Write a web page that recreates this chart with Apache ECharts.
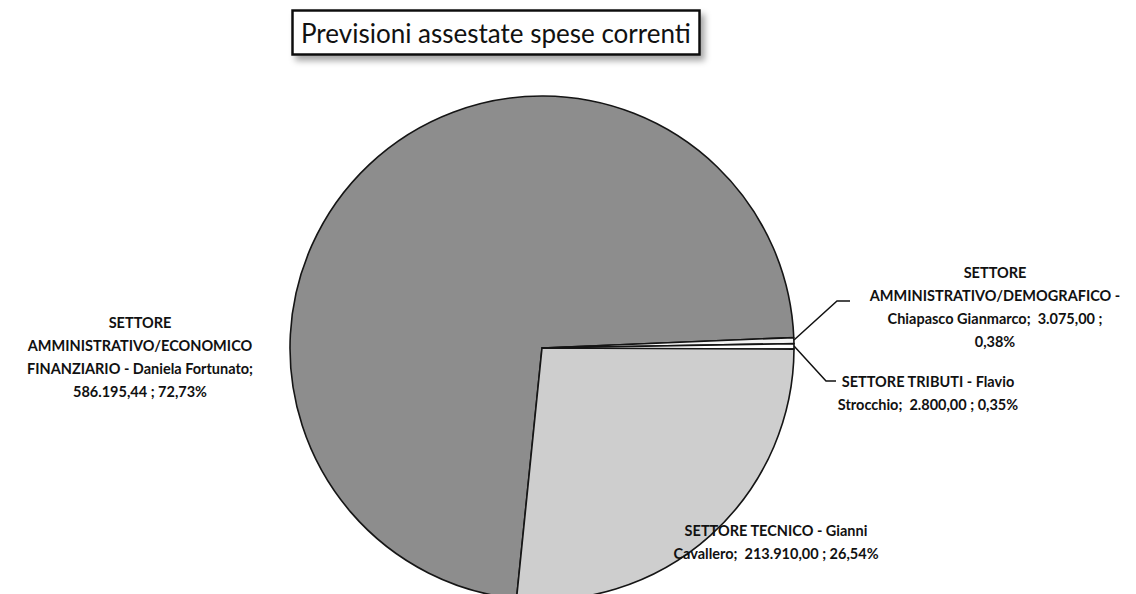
<!DOCTYPE html>
<html>
<head>
<meta charset="utf-8">
<script src="https://cdn.jsdelivr.net/npm/echarts@6/dist/echarts.min.js"></script>
<style>
html,body{margin:0;padding:0;background:#fff;}
#chart{width:1136px;height:594px;}
</style>
</head>
<body>
<div id="chart"></div>
<script>
// ---- data ----
var titleText = 'Previsioni assestate spese correnti';
var categories = [
  'SETTORE\nAMMINISTRATIVO/ECONOMICO\nFINANZIARIO - Daniela Fortunato',
  'SETTORE\nAMMINISTRATIVO/DEMOGRAFICO -\nChiapasco Gianmarco',
  'SETTORE TRIBUTI - Flavio\nStrocchio',
  'SETTORE TECNICO - Gianni\nCavallero'
];
var values = [586195.44, 3075.00, 2800.00, 213910.00];
var sepAfterName  = [';\n', ';  ', ';  ', ';  '];
var sepAfterValue = [' ; ', ' ;\n', ' ; ', ' ; '];
var sliceColors = ['#8d8d8d', '#f4f4f4', '#ffffff', '#cecece'];

// ---- label placement (layout only) ----
var labelPos = [
  {x: 140, y: 357, line: null},
  {x: 995, y: 307, line: [[794, 340], [837, 301], [850, 301]]},
  {x: 928, y: 393, line: [[794, 346], [826, 381], [836, 381]]},
  {x: 776, y: 542, line: null}
];

function fmtIt(v) {
  var s = v.toFixed(2);
  var parts = s.split('.');
  var int = parts[0].replace(/\B(?=(\d{3})+(?!\d))/g, '.');
  return int + ',' + parts[1];
}

var data = categories.map(function (c, i) {
  return {
    name: c,
    value: values[i],
    itemStyle: {color: sliceColors[i]},
    labelLine: {show: !!labelPos[i].line}
  };
});

var chart = echarts.init(document.getElementById('chart'), null, {renderer: 'svg'});
chart.setOption({
  animation: false,
  backgroundColor: '#ffffff',
  title: {
    text: titleText,
    left: 292,
    top: 10,
    padding: [7, 9, 6, 9],
    backgroundColor: '#ffffff',
    borderColor: '#111111',
    borderWidth: 2.5,
    shadowColor: 'rgba(0,0,0,0.35)',
    shadowBlur: 6,
    shadowOffsetX: 4,
    shadowOffsetY: 5,
    textStyle: {
      fontFamily: 'Lato',
      fontWeight: 'normal',
      fontSize: 26,
      lineHeight: 32,
      color: '#111111'
    }
  },
  series: [{
    type: 'pie',
    center: [542, 348],
    radius: 252,
    startAngle: 264.2,
    clockwise: true,
    avoidLabelOverlap: false,
    silent: true,
    emphasis: {disabled: true, scale: false},
    itemStyle: {borderColor: '#151515', borderWidth: 1.6},
    label: {
      show: true,
      position: 'outside',
      color: '#111111',
      fontFamily: 'Lato',
      fontWeight: 'bold',
      fontSize: 14.5,
      lineHeight: 23,
      align: 'center',
      formatter: function (p) {
        var i = p.dataIndex;
        var pct = p.percent.toFixed(2).replace('.', ',');
        return p.name + sepAfterName[i] + fmtIt(p.value) + sepAfterValue[i] + pct + '%';
      }
    },
    labelLine: {
      show: true,
      lineStyle: {color: '#111111', width: 1.5}
    },
    labelLayout: function (params) {
      var lp = labelPos[params.dataIndex];
      var r = {x: lp.x, y: lp.y, align: 'center', verticalAlign: 'middle'};
      if (lp.line) r.labelLinePoints = lp.line;
      return r;
    },
    data: data
  }]
});
</script>
</body>
</html>
